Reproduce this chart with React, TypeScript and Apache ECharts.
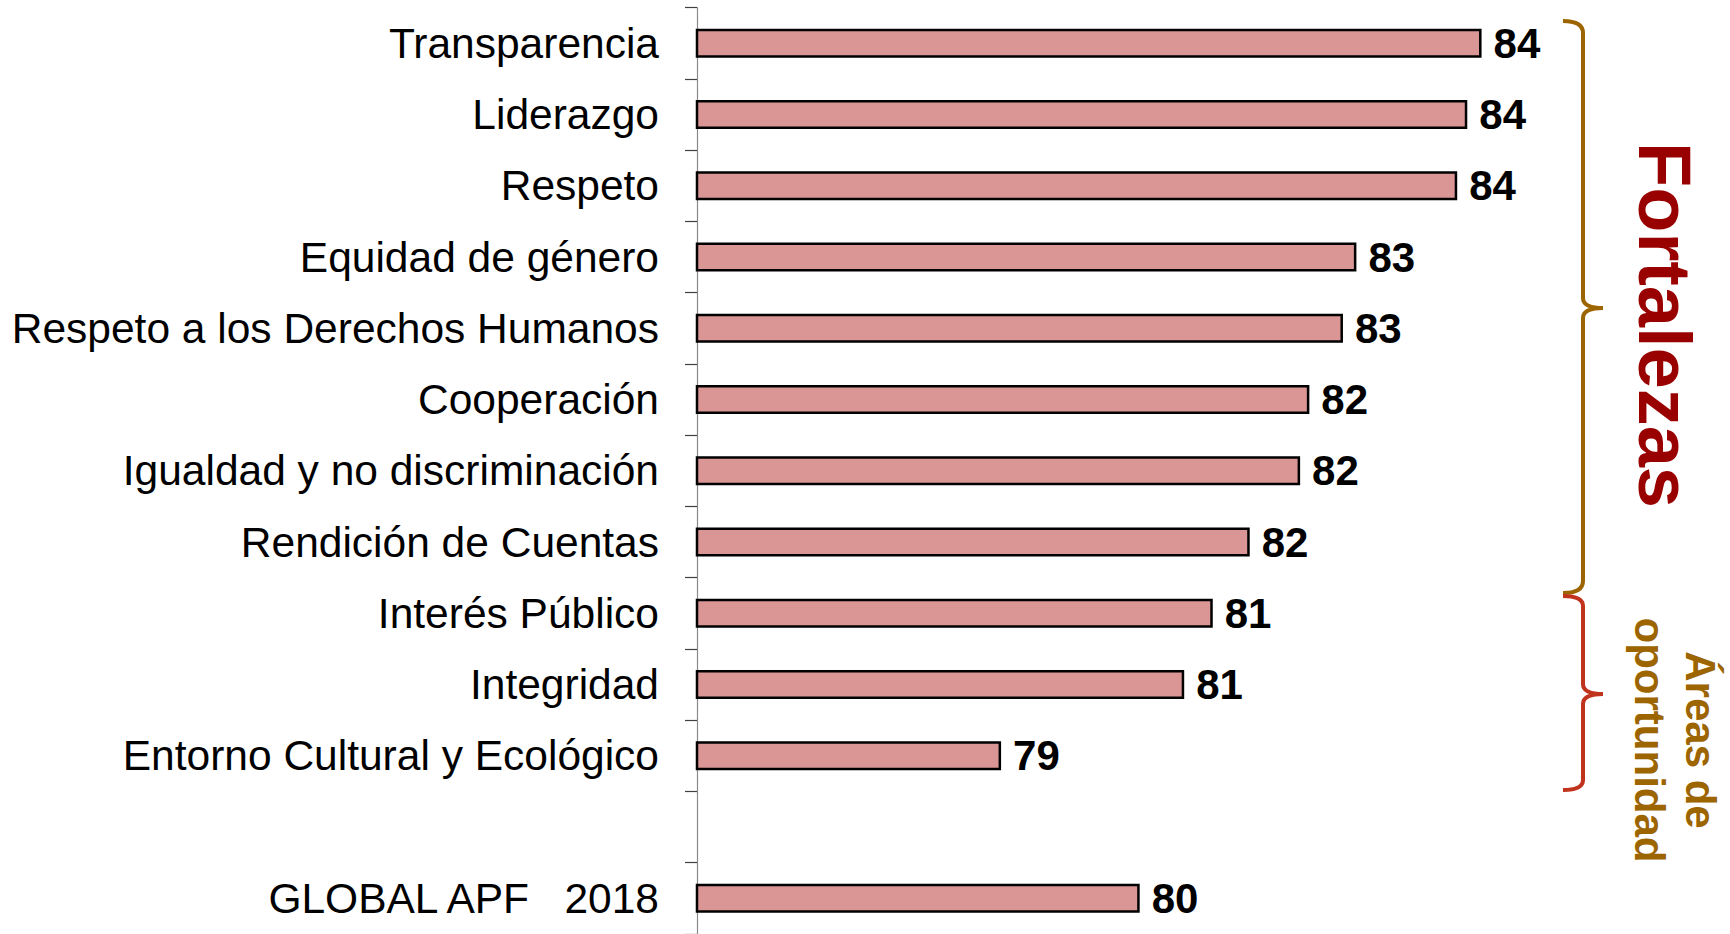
import React, { useEffect, useRef } from "react";
import * as echarts from "echarts";

const categories = [
  "Transparencia",
  "Liderazgo",
  "Respeto",
  "Equidad de género",
  "Respeto a los Derechos Humanos",
  "Cooperación",
  "Igualdad y no discriminación",
  "Rendición de Cuentas",
  "Interés Público",
  "Integridad",
  "Entorno Cultural y Ecológico",
  "",
  "GLOBAL APF\u00a0\u00a0\u00a02018",
];

const values: (number | null)[] = [
  84.34, 84.17, 84.05, 82.85, 82.69, 82.29, 82.18, 81.58, 81.14, 80.8, 78.62, null, 80.27,
];

const strengthsLabel = "Fortalezas";
const opportunityLabel = "Áreas de\noportunidad";

const FONT = "'Liberation Sans', Arial, Helvetica, sans-serif";

let registered = false;
function registerShapes() {
  if (registered) return;
  registered = true;
  echarts.graphic.registerShape(
    "braceTop",
    echarts.graphic.extendPath(
      "M1563,21 Q1583,21 1583,33 L1583,298 Q1583,308 1603,308 Q1583,308 1583,318 L1583,581 Q1583,593 1563,593",
      {}
    )
  );
  echarts.graphic.registerShape(
    "braceBottom",
    echarts.graphic.extendPath(
      "M1563,596 Q1583,596 1583,606 L1583,684 Q1583,694 1603,694 Q1583,694 1583,704 L1583,780 Q1583,790 1563,790",
      {}
    )
  );
}

export default function App() {
  const ref = useRef<HTMLDivElement>(null);

  useEffect(() => {
    if (!ref.current) return;
    registerShapes();
    const chart = echarts.init(ref.current, undefined, { renderer: "svg" });
    chart.setOption({
      animation: false,
      backgroundColor: "#ffffff",
      grid: { left: 697, top: 7.7, width: 840, height: 927.7, containLabel: false },
      xAxis: {
        type: "value",
        min: 75,
        max: 85,
        show: false,
        splitLine: { show: false },
      },
      yAxis: {
        type: "category",
        inverse: true,
        data: categories,
        axisLine: { show: true, lineStyle: { color: "#8a8a8a", width: 1.2 } },
        axisTick: {
          show: true,
          length: 12,
          inside: false,
          alignWithLabel: false,
          lineStyle: { color: "#404040", width: 1.2 },
        },
        axisLabel: {
          margin: 38,
          color: "#000000",
          fontSize: 42.5,
          fontFamily: FONT,
        },
        splitLine: { show: false },
      },
      series: [
        {
          type: "bar",
          data: values,
          barWidth: 29,
          itemStyle: {
            color: "#D99694",
            borderColor: "#000000",
            borderWidth: 2.5,
          },
          label: {
            show: true,
            position: "right",
            distance: 12,
            fontSize: 42,
            fontWeight: "bold",
            fontFamily: FONT,
            color: "#000000",
            formatter: (p: any) => String(Math.round(p.value)),
          },
        },
      ],
      graphic: [
        {
          type: "braceTop",
          x: 0,
          y: 0,
          style: { fill: "none", stroke: "#9C6500", lineWidth: 4 },
        },
        {
          type: "braceBottom",
          x: 0,
          y: 0,
          style: { fill: "none", stroke: "#C0341D", lineWidth: 4 },
        },
        {
          type: "text",
          x: 1664,
          y: 325,
          rotation: -Math.PI / 2,
          style: {
            text: strengthsLabel,
            fill: "#990000",
            font: `bold 74px ${FONT}`,
            align: "center",
            verticalAlign: "middle",
          },
        },
        {
          type: "text",
          x: 1675,
          y: 740,
          rotation: -Math.PI / 2,
          style: {
            text: opportunityLabel,
            fill: "#9C6500",
            font: `bold 42px ${FONT}`,
            lineHeight: 51,
            align: "center",
            verticalAlign: "middle",
          },
        },
      ],
    });
    return () => chart.dispose();
  }, []);

  return (
    <div
      ref={ref}
      style={{ position: "absolute", left: 0, top: 0, width: 1730, height: 934 }}
    />
  );
}
